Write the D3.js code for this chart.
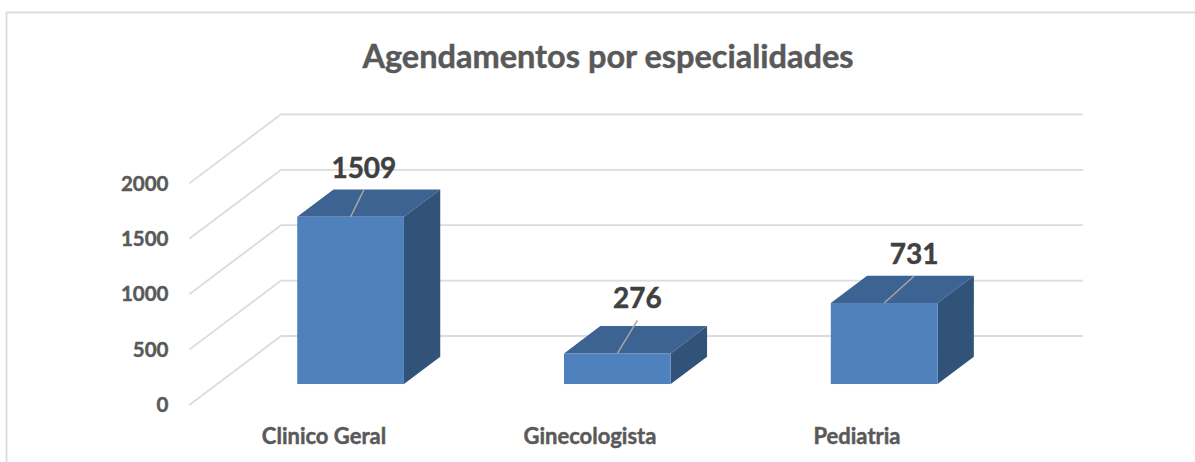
<!DOCTYPE html>
<html><head><meta charset="utf-8">
<script src="https://cdnjs.cloudflare.com/ajax/libs/d3/7.8.5/d3.min.js"></script>
<style>html,body{margin:0;padding:0;background:#fff}svg{display:block}text{font-family:Lato,Carlito,sans-serif;font-weight:700;stroke:currentColor;stroke-width:.45px}</style>
</head><body><svg id="c" width="1195" height="462"></svg>
<script>
const chartTitle = "Agendamentos por especialidades";
const categories = ["Clinico Geral", "Ginecologista", "Pediatria"];
const values = [1509, 276, 731];
const tickValues = [0, 500, 1000, 1500, 2000];

// layout
const svg = d3.select("#c");
const W = 1195, H = 462;
const floorFrontY = 405, floorBackY = 336;
const wallLeft = 189.3, wallBackLeft = 281, wallRight = 1083;
const depthX = wallBackLeft - wallLeft, depthY = floorFrontY - floorBackY;
const barNear = 0.304, barDepth = 0.396;
const labelOffsets = [[13.3, 27], [20, 33], [30, 27]];

const yH = d3.scaleLinear().domain([0, 2000]).range([0, 221.6]);
const x = d3.scaleBand().domain(categories)
  .range([wallLeft + barNear * depthX, wallLeft + barNear * depthX + 800.4])
  .paddingInner(0.6).paddingOuter(0.3);

const line = d3.line();
// chart border
svg.append("path").attr("d", line([[6.5, H], [6.5, 12.5], [W, 12.5]]))
  .attr("fill", "none").attr("stroke", "#dcdcdc").attr("stroke-width", 1.8);

// title
svg.append("text").attr("x", 608).attr("y", 68).attr("text-anchor", "middle")
  .attr("font-size", 32.5).attr("fill", "#595959").style("color", "#595959").text(chartTitle);

// gridlines on side and back walls
svg.append("g").selectAll("path").data(tickValues).join("path")
  .attr("d", t => line([
    [wallLeft, floorFrontY - yH(t)],
    [wallBackLeft, floorBackY - yH(t)],
    [wallRight, floorBackY - yH(t)]]))
  .attr("fill", "none").attr("stroke", "#dcdcdc").attr("stroke-width", 1.8);

// value axis labels
const tickFormat = d3.format("d");
svg.append("g").selectAll("text").data(tickValues).join("text")
  .attr("x", 168.5).attr("y", t => floorFrontY - yH(t)).attr("dy", "0.355em")
  .attr("text-anchor", "end").attr("font-size", 20.5).attr("fill", "#595959").style("color", "#595959")
  .text(tickFormat);

// category labels
const catLabelX = [324, 590, 857];
svg.append("g").selectAll("text").data(categories).join("text")
  .attr("x", (d, i) => catLabelX[i]).attr("y", 443.5)
  .attr("text-anchor", "middle").attr("font-size", 22).attr("fill", "#595959").style("color", "#595959")
  .text(d => d);

// bars
const baseY = floorFrontY - barNear * depthY;
const ddx = barDepth * depthX, ddy = barDepth * depthY;
const bars = svg.append("g").selectAll("g")
  .data(values.map((v, i) => ({ v, c: categories[i], i }))).join("g");
const bw = x.bandwidth();
bars.append("path").attr("fill", "#3c6391")
  .attr("d", d => { const l = x(d.c), t = baseY - yH(d.v);
    return line([[l, t], [l + ddx, t - ddy], [l + bw + ddx, t - ddy], [l + bw, t]]) + "Z"; });
bars.append("path").attr("fill", "#325379")
  .attr("d", d => { const l = x(d.c), t = baseY - yH(d.v);
    return line([[l + bw, t], [l + bw + ddx, t - ddy], [l + bw + ddx, baseY - ddy], [l + bw, baseY]]) + "Z"; });
bars.append("rect").attr("fill", "#4f81bd")
  .attr("x", d => x(d.c)).attr("y", d => baseY - yH(d.v))
  .attr("width", bw).attr("height", d => yH(d.v));

// leader lines and data labels
const cx = d => x(d.c) + bw / 2;
bars.append("path").attr("fill", "none").attr("stroke", "#a6a6a6").attr("stroke-width", 1.5)
  .attr("d", d => { const t = baseY - yH(d.v), o = labelOffsets[d.i];
    return line([[cx(d), t], [cx(d) + o[0], t - o[1]]]); });
bars.append("text").attr("text-anchor", "middle").attr("font-size", 28).attr("fill", "#404040").style("color", "#404040")
  .attr("x", d => cx(d) + labelOffsets[d.i][0])
  .attr("y", d => baseY - yH(d.v) - labelOffsets[d.i][1] - 22)
  .attr("dy", "0.355em").text(d => d.v);
</script></body></html>
